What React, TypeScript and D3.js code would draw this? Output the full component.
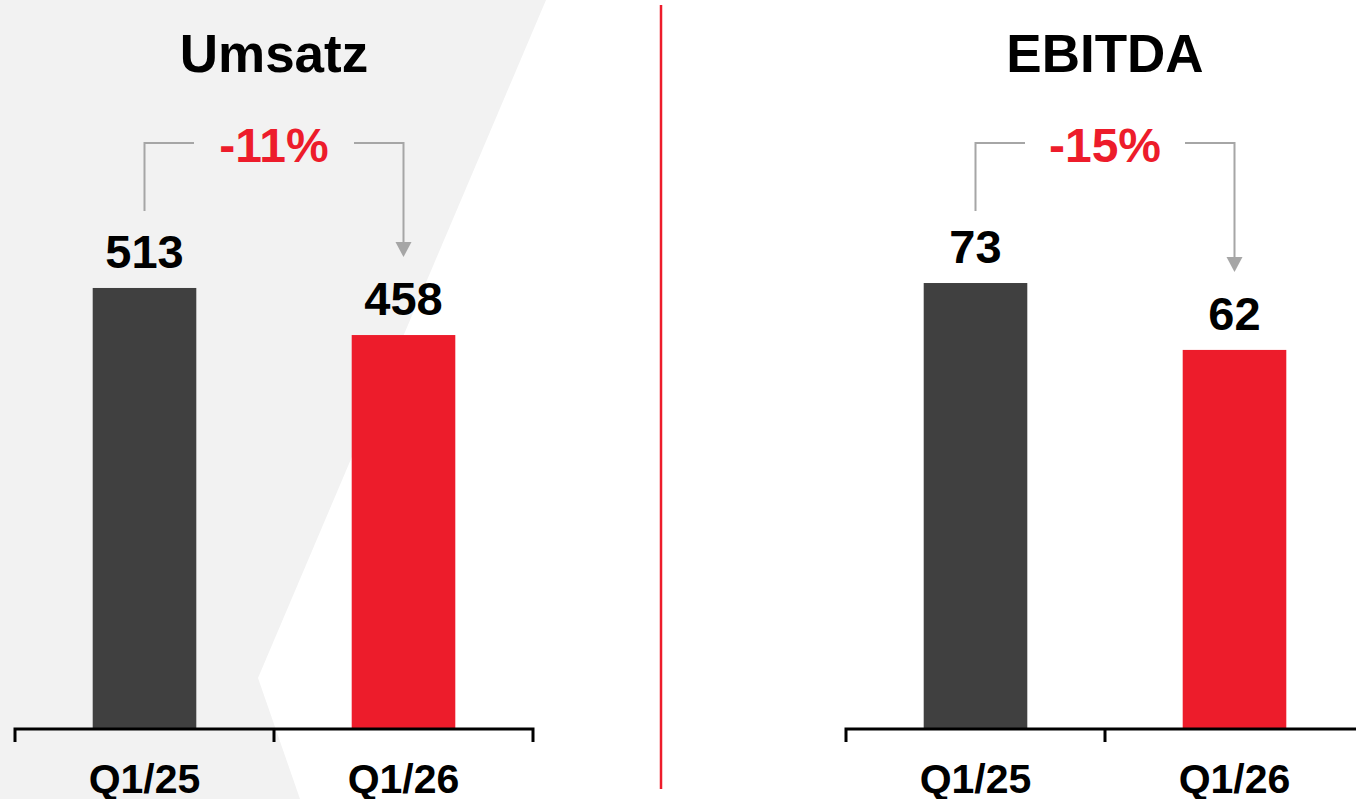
import React from "react";
import * as d3 from "d3";

const categories = ["Q1/25", "Q1/26"];
const panelTitles = ["Umsatz", "EBITDA"];
const umsatzValues = [513, 458];
const ebitdaValues = [73, 62];
const changeLabels = ["-11%", "-15%"];
const yDomainMax = [615.8, 86.65];

const W = 1356;
const H = 799;
const FONT = "'Liberation Sans', Arial, Helvetica, sans-serif";
const DARK = "#404040";
const RED = "#ED1C2B";
const GRAY = "#A6A6A6";
const BG = "#F2F2F2";

const panelRanges: [number, number][] = [
  [15, 533],
  [846, 1364],
];
const baseY = 729;
const barBottom = 727;
const plotTop = 200;

function Panel({ idx, values }: { idx: number; values: number[] }) {
  const x = d3.scaleBand<string>().domain(categories).range(panelRanges[idx]).padding(0);
  const bw = x.bandwidth();
  const y = d3.scaleLinear().domain([0, yDomainMax[idx]]).range([barBottom, plotTop]);
  const centers = categories.map((c) => (x(c) as number) + bw / 2);
  const boundaries = [x.range()[0], ...categories.map((c) => (x(c) as number) + bw)];
  const tickLen = 13;
  const axisPath =
    `M${boundaries[0]},${baseY + tickLen}V${baseY}H${boundaries[boundaries.length - 1]}V${baseY + tickLen}` +
    boundaries
      .slice(1, -1)
      .map((b) => `M${b},${baseY}V${baseY + tickLen}`)
      .join("");
  const mid = (centers[0] + centers[1]) / 2;
  const bracketY = 143;
  const gap = 80;
  const arrowTip = y(values[1]) - 78;
  const headH = 15;
  const headW = 8;
  const axisMid = (panelRanges[idx][0] + panelRanges[idx][1]) / 2;
  return (
    <g>
      <text x={axisMid} y={72} textAnchor="middle" fontFamily={FONT} fontWeight="bold" fontSize={53} fill="#000">
        {panelTitles[idx]}
      </text>
      {categories.map((c, i) => (
        <rect
          key={c}
          x={(x(c) as number) + bw * 0.3}
          y={y(values[i])}
          width={bw * 0.4}
          height={barBottom - y(values[i]) + 1}
          fill={i === 0 ? DARK : RED}
        />
      ))}
      {categories.map((c, i) => (
        <text
          key={"v" + c}
          x={centers[i]}
          y={y(values[i]) - 20}
          textAnchor="middle"
          fontFamily={FONT}
          fontWeight="bold"
          fontSize={47}
          fill="#000"
        >
          {values[i]}
        </text>
      ))}
      <path d={axisPath} fill="none" stroke="#000" strokeWidth={3} />
      {categories.map((c, i) => (
        <text
          key={"l" + c}
          x={centers[i]}
          y={793}
          textAnchor="middle"
          fontFamily={FONT}
          fontWeight="bold"
          fontSize={41}
          fill="#000"
        >
          {c}
        </text>
      ))}
      <path
        d={`M${centers[0]},211V${bracketY}H${mid - gap}M${mid + gap},${bracketY}H${centers[1]}V${arrowTip - headH}`}
        fill="none"
        stroke={GRAY}
        strokeWidth={2}
      />
      <path
        d={`M${centers[1] - headW},${arrowTip - headH}L${centers[1] + headW},${arrowTip - headH}L${centers[1]},${arrowTip}Z`}
        fill={GRAY}
      />
      <text x={mid} y={162} textAnchor="middle" fontFamily={FONT} fontWeight="bold" fontSize={48} fill={RED}>
        {changeLabels[idx]}
      </text>
    </g>
  );
}

export default function App() {
  const bgPoly = [
    [0, 0],
    [546, 0],
    [258, 678],
    [300, 799],
    [0, 799],
  ];
  return (
    <svg
      width={W}
      height={H}
      viewBox={`0 0 ${W} ${H}`}
      style={{ position: "absolute", left: 0, top: 0, background: "#fff" }}
    >
      <polygon points={bgPoly.map((p) => p.join(",")).join(" ")} fill={BG} />
      <line x1={661} x2={661} y1={5} y2={789} stroke={RED} strokeWidth={2.5} />
      <Panel idx={0} values={umsatzValues} />
      <Panel idx={1} values={ebitdaValues} />
    </svg>
  );
}
